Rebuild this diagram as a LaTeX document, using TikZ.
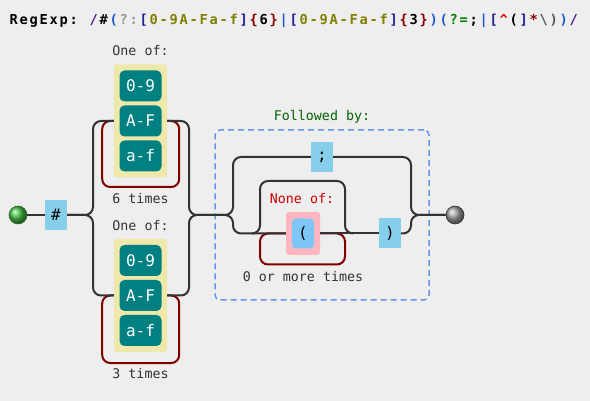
\documentclass[tikz,border=0pt]{standalone}
\usepackage{fontspec}
\usepackage{xcolor}
\usepackage{tikz}
\usetikzlibrary{positioning, calc, shadings}
\setmonofont{DejaVu Sans Mono}

\definecolor{cBg}     {HTML}{EEEEEE}
\definecolor{cLine}   {HTML}{333333}
\definecolor{cLoop}   {HTML}{800000}
\definecolor{cLit}    {HTML}{87CEEB}
\definecolor{cRange}  {HTML}{008080}
\definecolor{cSet}    {HTML}{EEE8AA}
\definecolor{cNegBg}  {HTML}{FFB6C1}
\definecolor{cNeg}    {HTML}{7EC6F8}
\definecolor{cLook}   {HTML}{6495ED}
\definecolor{cFollow} {HTML}{006400}
\definecolor{cNone}   {HTML}{CC0000}
\definecolor{cText}   {HTML}{333333}
\definecolor{cStart}  {HTML}{44C044}
\definecolor{cStop}   {HTML}{A0A0A0}
% regexp colours
\definecolor{tSlash}  {HTML}{4B1E8C}
\definecolor{tGroup}  {HTML}{1E5AD2}
\definecolor{tMeta}   {HTML}{999999}
\definecolor{tSet}    {HTML}{1F1F8F}
\definecolor{tRange}  {HTML}{808000}
\definecolor{tQuant}  {HTML}{8B0000}
\definecolor{tLook}   {HTML}{008000}
\definecolor{tNeg}    {HTML}{E00000}
\definecolor{tEsc}    {HTML}{555555}

% fixed 10pt pitch for the title characters
\newcommand\tseq[2]{{\color{#1}\tseqstep#2\relax}}
\def\tseqstep#1{\ifx#1\relax\else\makebox[10pt]{#1}\expandafter\tseqstep\fi}

\tikzset{
  rail/.style={draw=cLine, line width=2pt, rounded corners=8pt},
  loopback/.style={draw=cLoop, line width=2pt, rounded corners=8pt},
  litbox/.style={fill=cLit, minimum width=22pt, minimum height=30pt, inner sep=0pt,
    font=\ttfamily\fontsize{16}{16}\selectfont, text=black},
  rangebox/.style={fill=cRange, rounded corners=5pt, minimum width=42pt,
    minimum height=31pt, inner sep=0pt, font=\ttfamily\fontsize{16}{16}\selectfont, text=white},
  setbox/.style={fill=cSet, rounded corners=3pt, minimum width=53pt,
    minimum height=113pt, inner sep=0pt},
  lbl/.style={font=\ttfamily\fontsize{13.3}{14}\selectfont, text=cText, inner sep=0pt},
  endball/.style={circle, minimum size=18pt, inner sep=0pt, line width=0.6pt},
}

\begin{document}
\begin{tikzpicture}[x=1pt, y=-1pt]
  \path[use as bounding box, fill=cBg] (0,0) rectangle (590,401);
  % Title with the expression
  \node[anchor=base west, inner sep=0pt, font=\ttfamily\bfseries\fontsize{13.7}{16}\selectfont]
    (title) at (8.5,24.3) {\tseq{black}{RegExp:}\makebox[10pt]{}%
    \tseq{tSlash}{/}\tseq{black}{\#}\tseq{tGroup}{(}\tseq{tMeta}{?:}%
    \tseq{tSet}{[}\tseq{tRange}{0-9A-Fa-f}\tseq{tSet}{]}\tseq{tQuant}{\{}\tseq{black}{6}\tseq{tQuant}{\}}%
    \tseq{tGroup}{|}\tseq{tSet}{[}\tseq{tRange}{0-9A-Fa-f}\tseq{tSet}{]}\tseq{tQuant}{\{}\tseq{black}{3}\tseq{tQuant}{\}}%
    \tseq{tGroup}{)(}\tseq{tLook}{?=}\tseq{black}{;}\tseq{tGroup}{|}\tseq{tSet}{[}\tseq{tNeg}{\textasciicircum}%
    \tseq{black}{(}\tseq{tSet}{]}\tseq{tQuant}{*}\tseq{tEsc}{\textbackslash)}\tseq{tGroup}{)}\tseq{tSlash}{/}};

  % Lookahead frame
  \node[draw=cLook, line width=1.5pt, dash pattern=on 6pt off 4pt, rounded corners=5pt,
        minimum width=214pt, minimum height=170pt] (look) at (322,215) {};
  \node[lbl, text=cFollow] (lookLbl) at (322,117) {Followed by:};

  % Start, end and literal
  \node[endball, ball color=cStart, draw=cStart!60!black] (start) at (18,215) {};
  \node[endball, ball color=cStop, draw=black!80] (stop) at (455,215) {};
  \node[litbox] (hash) at (56,215) {\#};

  % Six-digit alternative
  \node[setbox] (setA) at (140.5,121) {};
  \node[rangebox] (digA) at (140.5,86) {0-9};
  \node[rangebox] (upA)  at (140.5,121) {A-F};
  \node[rangebox] (lowA) at (140.5,156) {a-f};
  \node[lbl] (oneA)   at (140.5,51) {One of:};
  \node[lbl] (timesA) at (140.5,199) {6 times};

  % Three-digit alternative
  \node[setbox] (setB) at (140.5,295.5) {};
  \node[rangebox] (digB) at (140.5,260.5) {0-9};
  \node[rangebox] (upB)  at (140.5,295.5) {A-F};
  \node[rangebox] (lowB) at (140.5,330.5) {a-f};
  \node[lbl] (oneB)   at (140.5,226) {One of:};
  \node[lbl] (timesB) at (140.5,374) {3 times};

  % Lookahead contents
  \node[litbox] (semi) at (322,157) {;};
  \node[fill=cNegBg, rounded corners=3pt, minimum width=34pt, minimum height=43pt] (negSet) at (303,233.5) {};
  \node[litbox, fill=cNeg, rounded corners=4pt] (open) at (303,233.5) {(};
  \node[litbox] (close) at (390,233.5) {)};
  \node[lbl, text=cNone] (noneLbl) at (302,199) {None of:};
  \node[lbl] (starLbl) at (303,277) {0 or more times};

  \coordinate (splitL) at (93,215);
  \coordinate (joinR)  at (189,215);
  \coordinate (splitM) at (233,215);
  \coordinate (joinM)  at (411,215);
  \coordinate (skipL)  at (260,233.5);
  \coordinate (skipR)  at (345,233.5);

  % Repetition loops
  \draw[loopback] (setA.east) -- ++(12,0) -- ++(0,66) -- ++(-77,0) -- ++(0,-66) -- (setA.west);
  \draw[loopback] (setB.east) -- ++(12,0) -- ++(0,67.5) -- ++(-77,0) -- ++(0,-67.5) -- (setB.west);
  \draw[loopback] (negSet.east) -- (skipR) -- ++(0,31) -| (skipL) -- (negSet.west);

  % Rails
  \draw[rail] (start) -- (hash);
  \draw[rail] (hash.east) -- (splitL) |- (setA.west);
  \draw[rail] (hash.east) -- (splitL) |- (setB.west);
  \draw[rail] (setA.east) -| (joinR) -- (splitM) |- (semi.west);
  \draw[rail] (setB.east) -| (joinR) -- (splitM) |- (negSet.west);
  \draw[rail] (skipL) ++(-8,0) -- ++(8,0) -- ++(0,-52.5) -- ++(85,0) -- ++(0,52.5) -- ++(8,0);
  \draw[rail] (negSet.east) -- (close.west);
  \draw[rail] (semi.east) -| (joinM) -- (stop.west);
  \draw[rail] (close.east) -| (joinM) -- (stop.west);
\end{tikzpicture}
\end{document}
